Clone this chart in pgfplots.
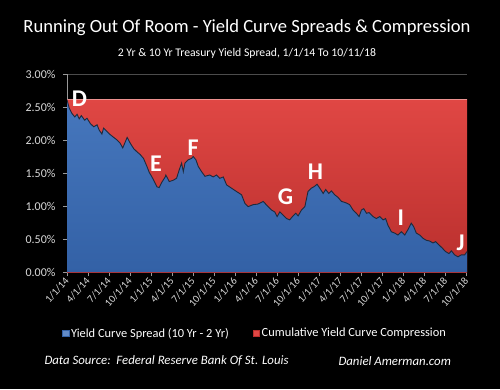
\documentclass[border=0pt]{standalone}
\usepackage{pgfplots}
\pgfplotsset{compat=1.18}
\usepackage{pgfplotstable}
\usepackage{fontspec}
\setmainfont{Carlito}
\definecolor{bluetop}{HTML}{4677BD}
\definecolor{bluebot}{HTML}{3361A6}
\definecolor{redtop}{HTML}{E04744}
\definecolor{redbot}{HTML}{B92F2D}
\definecolor{edge}{HTML}{1E2A3C}
\definecolor{lbl}{HTML}{D9D9D9}
\pgfplotstableread{
q v
0 2.61
0.11 2.48
0.24 2.40
0.37 2.35
0.48 2.39
0.58 2.32
0.68 2.37
0.84 2.30
0.95 2.33
1.11 2.25
1.27 2.20
1.43 2.23
1.53 2.15
1.66 2.09
1.74 2.18
1.90 2.13
2.06 2.08
2.22 2.04
2.38 2.00
2.53 1.95
2.65 1.88
2.77 1.97
2.86 2.04
3.01 1.95
3.17 1.87
3.33 1.82
3.48 1.78
3.64 1.72
3.80 1.60
3.91 1.51
4.04 1.44
4.17 1.36
4.28 1.29
4.38 1.28
4.51 1.36
4.67 1.44
4.70 1.47
4.86 1.37
5.05 1.39
5.21 1.42
5.34 1.55
5.45 1.65
5.53 1.52
5.61 1.65
5.76 1.70
5.92 1.72
6.00 1.75
6.13 1.70
6.24 1.60
6.40 1.52
6.56 1.45
6.79 1.47
6.95 1.44
7.11 1.47
7.27 1.42
7.43 1.44
7.59 1.32
7.82 1.27
8.06 1.22
8.30 1.17
8.46 1.04
8.61 0.99
8.85 1.02
9.09 1.03
9.33 1.07
9.56 0.99
9.72 0.94
9.88 0.91
9.99 0.84
10.12 0.91
10.28 0.86
10.44 0.81
10.59 0.79
10.72 0.84
10.88 0.89
10.99 0.85
11.15 0.94
11.31 0.99
11.46 1.22
11.62 1.27
11.78 1.30
11.89 1.33
12.02 1.27
12.18 1.19
12.30 1.25
12.45 1.19
12.57 1.23
12.73 1.17
12.89 1.13
13.05 1.07
13.25 1.05
13.44 1.02
13.60 0.94
13.76 0.89
13.89 0.84
14.00 0.94
14.11 0.96
14.24 0.89
14.36 0.90
14.55 0.84
14.71 0.81
14.87 0.84
15.03 0.79
15.15 0.81
15.26 0.71
15.42 0.61
15.58 0.59
15.74 0.56
15.90 0.61
16.06 0.56
16.21 0.64
16.37 0.74
16.48 0.69
16.61 0.59
16.77 0.56
16.93 0.51
17.09 0.48
17.24 0.47
17.40 0.44
17.53 0.46
17.69 0.41
17.85 0.36
18.00 0.31
18.16 0.28
18.28 0.32
18.43 0.26
18.59 0.23
18.75 0.26
18.91 0.26
19.02 0.31
}\spread
\pgfplotstableread{
q v
0 2.62
19.02 2.62
}\compress
\begin{document}
\begin{tikzpicture}
\fill[black] (0pt,0pt) rectangle (500pt,389pt);
\path[use as bounding box] (0pt,0pt) rectangle (500pt,389pt);
\node[text=white,font=\fontsize{18.6}{22}\selectfont] at (247pt,361pt) {Running Out Of Room - Yield Curve Spreads \& Compression};
\node[text=white,font=\fontsize{11.7}{14}\selectfont] at (247pt,336pt) {2 Yr \& 10 Yr Treasury Yield Spread, 1/1/14 To 10/11/18};
\node[text=white,font=\fontsize{12.8}{15}\selectfont\itshape,anchor=west] at (41pt,28pt) {Data Source:\ \ Federal Reserve Bank Of St. Louis};
\node[text=white,font=\fontsize{12.8}{15}\selectfont\itshape,anchor=west] at (335pt,28pt) {Daniel Amerman.com};
\begin{axis}[
  at={(67pt,117pt)}, anchor=south west,
  scale only axis, width=400pt, height=198pt,
  xmin=0, xmax=19.02, ymin=0, ymax=3,
  axis lines*=left,
  axis line style={draw=gray!80},
  ytick={0,0.5,1,1.5,2,2.5,3},
  yticklabel={\pgfmathprintnumber[fixed,fixed zerofill,precision=2]{\tick}\%},
  /pgf/number format/assume math mode=true,
  ymajorgrids, grid style={draw=black!70!white, line width=0.8pt},
  xtick={0,...,19},
  xticklabels={1/1/14,4/1/14,7/1/14,10/1/14,1/1/15,4/1/15,7/1/15,10/1/15,1/1/16,4/1/16,7/1/16,10/1/16,1/1/17,4/1/17,7/1/17,10/1/17,1/1/18,4/1/18,7/1/18,10/1/18},
  tick align=outside, major tick length=4pt,
  tick style={draw=gray!80},
  ticklabel style={text=lbl, font=\fontsize{12}{14}\selectfont},
  xticklabel style={rotate=48, anchor=east, font=\fontsize{10.5}{12}\selectfont, xshift=1pt, yshift=-2pt},
  yticklabel style={xshift=-4pt},
  legend style={at={(0.47,-0.31)}, anchor=center, draw=none, fill=none, text=white, font=\fontsize{12.4}{14}\selectfont, /tikz/every even column/.append style={column sep=22pt}},
  legend columns=2,
]
\addplot[forget plot, draw=none, top color=redtop, bottom color=redbot] table[x=q,y=v] {\compress} \closedcycle;
\addplot[forget plot, draw=redtop!60!white, line width=1pt] table[x=q,y=v] {\compress};
\addplot[forget plot, draw=none, top color=bluetop, bottom color=bluebot] table[x=q,y=v] {\spread} \closedcycle;
\addplot[forget plot, draw=edge, line width=0.9pt] table[x=q,y=v] {\spread};
\addlegendimage{legend image code/.code={\fill[fill=bluetop!85!white,draw=bluebot] (0pt,-3.2pt) rectangle (6.5pt,3.2pt);}}
\addlegendentry{Yield Curve Spread (10 Yr - 2 Yr)}
\addlegendimage{legend image code/.code={\fill[fill=redtop,draw=redbot] (0pt,-3.2pt) rectangle (6.5pt,3.2pt);}}
\addlegendentry{Cumulative Yield Curve Compression}
\begin{scope}[every node/.style={text=white, font=\fontsize{24}{26}\selectfont\bfseries}]
\node at (axis cs:0.59,2.62) {D};
\node at (axis cs:4.23,1.64) {E};
\node at (axis cs:6.0,1.89) {F};
\node at (axis cs:10.39,1.14) {G};
\node at (axis cs:11.81,1.52) {H};
\node at (axis cs:15.87,0.82) {I};
\node at (axis cs:18.72,0.44) {J};
\end{scope}
\end{axis}
\end{tikzpicture}
\end{document}
